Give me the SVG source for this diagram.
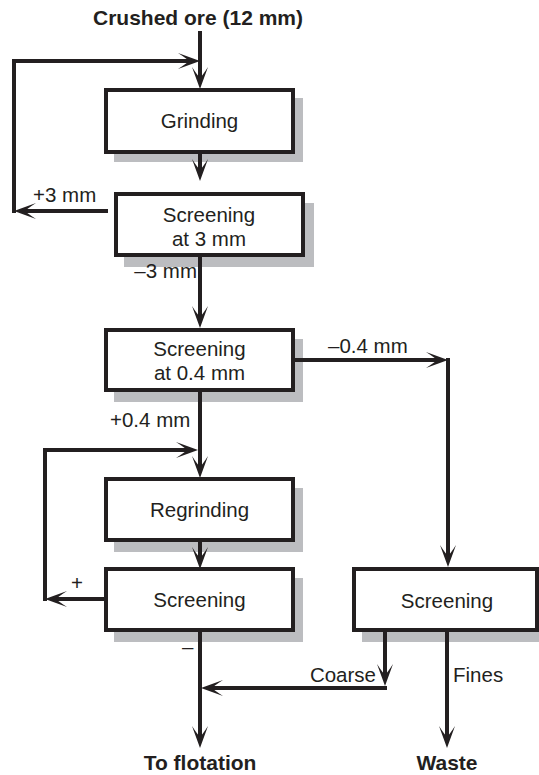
<svg xmlns="http://www.w3.org/2000/svg" width="539" height="775" viewBox="0 0 539 775">
  <style>
    .box { fill: #ffffff; stroke: #231f20; stroke-width: 4; }
    .shadow { fill: #bcbdc0; }
    .lbl { font-family: "Liberation Sans", Arial, sans-serif; font-size: 20.5px; fill: #231f20; }
    .mid { text-anchor: middle; }
    .end { text-anchor: end; }
    .bold { font-weight: bold; font-size: 21px; }
    .flow { fill: none; stroke: #231f20; stroke-width: 4; stroke-linejoin: miter; }
    .arrow { marker-end: url(#head); }
  </style>
  <defs>
    <!-- swept-back arrowhead; tip at (0,0), line ends 8px behind it -->
    <marker id="head" viewBox="-23 -8.5 24 17" markerWidth="24" markerHeight="17" refX="-8" refY="0" orient="auto" markerUnits="userSpaceOnUse">
      <path d="M0,0 L-22,-8 Q-13.5,-2.5 -11,0 Q-13.5,2.5 -22,8 Z" fill="#231f20"/>
    </marker>
  </defs>

  <rect width="539" height="775" fill="#ffffff"/>

  <!-- terminals -->
  <g id="feed">
    <text class="lbl bold mid" x="198" y="25">Crushed ore (12 mm)</text>
  </g>
  <g id="flotation">
    <text class="lbl bold mid" x="200" y="770">To flotation</text>
  </g>
  <g id="waste">
    <text class="lbl bold mid" x="447" y="770">Waste</text>
  </g>

  <!-- process boxes (drop shadow + framed box) -->
  <g id="grinding">
    <rect class="shadow" x="114" y="98" width="189" height="64"/>
    <rect class="box" x="106" y="90" width="187" height="62"/>
    <text class="lbl mid" x="199.5" y="128">Grinding</text>
  </g>
  <g id="screening-3mm">
    <rect class="shadow" x="124" y="203" width="190" height="64"/>
    <rect class="box" x="116" y="194" width="187" height="61"/>
    <text class="lbl mid" x="209" y="222">Screening</text>
    <text class="lbl mid" x="209" y="246">at 3 mm</text>
  </g>
  <g id="screening-04mm">
    <rect class="shadow" x="114" y="339" width="189" height="63"/>
    <rect class="box" x="106" y="330" width="187" height="60"/>
    <text class="lbl mid" x="199.5" y="356">Screening</text>
    <text class="lbl mid" x="199.5" y="380">at 0.4 mm</text>
  </g>
  <g id="regrinding">
    <rect class="shadow" x="114" y="488" width="189" height="64"/>
    <rect class="box" x="106" y="479" width="187" height="61"/>
    <text class="lbl mid" x="199.5" y="517">Regrinding</text>
  </g>
  <g id="screening-left">
    <rect class="shadow" x="114" y="578" width="189" height="64"/>
    <rect class="box" x="106" y="569" width="187" height="61"/>
    <text class="lbl mid" x="199.5" y="607">Screening</text>
  </g>
  <g id="screening-right">
    <rect class="shadow" x="362" y="578" width="180" height="64"/>
    <rect class="box" x="354" y="569" width="183" height="61"/>
    <text class="lbl mid" x="447" y="608">Screening</text>
  </g>

  <!-- connectors, drawn over the shadows -->
  <g id="connectors">
    <path class="flow arrow" d="M200,31 L200,81"/>
    <path class="flow arrow" d="M108,211 L22,211"/>
    <path class="flow arrow" d="M14,213 L14,61 L192,61"/>
    <path class="flow arrow" d="M200,154 L200,173"/>
    <path class="flow arrow" d="M200,257 L200,320"/>
    <path class="flow arrow" d="M295,360 L440,360"/>
    <path class="flow arrow" d="M448,358 L448,559"/>
    <path class="flow arrow" d="M200,392 L200,470"/>
    <path class="flow arrow" d="M104,599 L53,599"/>
    <path class="flow arrow" d="M45,601 L45,450 L190,450"/>
    <path class="flow arrow" d="M200,542 L200,561"/>
    <path class="flow arrow" d="M200,632 L200,740"/>
    <path class="flow arrow" d="M385,632 L385,678"/>
    <path class="flow arrow" d="M387,688 L209,688"/>
    <path class="flow arrow" d="M447,632 L447,740"/>

    <text class="lbl" x="33" y="202">+3 mm</text>
    <text class="lbl end" x="197" y="278">–3 mm</text>
    <text class="lbl" x="328" y="353">–0.4 mm</text>
    <text class="lbl" x="110" y="427">+0.4 mm</text>
    <text class="lbl" x="71" y="590">+</text>
    <text class="lbl" x="182" y="654">–</text>
    <text class="lbl end" x="376" y="682">Coarse</text>
    <text class="lbl" x="453" y="682">Fines</text>
  </g>
</svg>
